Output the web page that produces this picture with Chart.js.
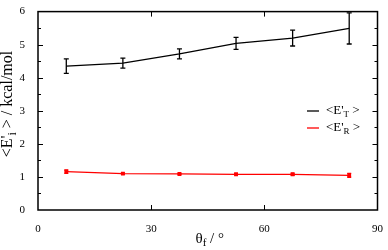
<!DOCTYPE html>
<html lang="en">
<head>
    <meta charset="UTF-8">
    <title>Energy vs angle</title>
    <script src="https://cdn.jsdelivr.net/npm/chart.js"></script>
    <style>
        html, body { margin: 0; padding: 0; background: #fff; }
        #wrap { width: 388px; height: 250px; }
    </style>
</head>
<body>
    <div id="wrap"><canvas id="energyChart" width="388" height="250"></canvas></div>
    <script>
        // data
        const thetaF = [7.5, 22.5, 37.5, 52.5, 67.5, 82.5];
        const eTrans = [4.35, 4.44, 4.72, 5.04, 5.2, 5.49];
        const eTransErr = [0.22, 0.15, 0.15, 0.18, 0.24, 0.47];
        const eRot = [1.16, 1.1, 1.09, 1.08, 1.08, 1.05];
        const eRotErr = [0.05, 0.02, 0.02, 0.02, 0.03, 0.06];
        const xTicks = [0, 30, 60, 90];
        const yTicks = [0, 1, 2, 3, 4, 5, 6];

        const serif = "'Liberation Serif', 'DejaVu Serif', serif";

        function toPoints(xs, ys) {
            return xs.map((x, i) => ({ x: x, y: ys[i] }));
        }

        // draws text with a subscript part: parts = [[text, 'n'|'sub'], ...]
        function drawRich(ctx, parts, x, y, size) {
            let cx = x;
            parts.forEach(p => {
                const sub = p[1] === 'sub';
                ctx.font = (sub ? Math.round(size * 0.72) : size) + "px " + serif;
                ctx.fillText(p[0], cx, sub ? y + size * 0.3 : y);
                cx += ctx.measureText(p[0]).width;
            });
            return cx - x;
        }
        function richWidth(ctx, parts, size) {
            let w = 0;
            parts.forEach(p => {
                ctx.font = (p[1] === 'sub' ? Math.round(size * 0.72) : size) + "px " + serif;
                w += ctx.measureText(p[0]).width;
            });
            return w;
        }

        const errorBars = {
            id: 'errorBars',
            afterDatasetsDraw(chart) {
                const ctx = chart.ctx;
                const ys = chart.scales.y;
                chart.data.datasets.forEach((ds, i) => {
                    const meta = chart.getDatasetMeta(i);
                    ctx.save();
                    ctx.strokeStyle = ds.borderColor;
                    ctx.lineWidth = 1.3;
                    meta.data.forEach((pt, j) => {
                        const v = ds.data[j].y;
                        const e = ds.errors[j];
                        const top = ys.getPixelForValue(v + e);
                        const bot = ys.getPixelForValue(v - e);
                        const cap = ds.capWidth;
                        ctx.beginPath();
                        ctx.moveTo(pt.x, top); ctx.lineTo(pt.x, bot);
                        ctx.moveTo(pt.x - cap, top); ctx.lineTo(pt.x + cap, top);
                        ctx.moveTo(pt.x - cap, bot); ctx.lineTo(pt.x + cap, bot);
                        ctx.stroke();
                    });
                    ctx.restore();
                });
            }
        };

        const frameAndLabels = {
            id: 'frameAndLabels',
            afterDraw(chart) {
                const ctx = chart.ctx;
                const a = chart.chartArea;
                const xs = chart.scales.x;
                const ys = chart.scales.y;
                ctx.save();
                ctx.strokeStyle = '#000';
                ctx.lineWidth = 1.5;
                ctx.strokeRect(a.left, a.top, a.right - a.left, a.bottom - a.top);

                // inward ticks
                ctx.lineWidth = 1;
                ctx.beginPath();
                for (let v = 0.5; v < 6; v += 0.5) {
                    const py = Math.round(ys.getPixelForValue(v)) + 0.5;
                    const len = (v % 1 === 0) ? 5 : 3;
                    ctx.moveTo(a.left, py); ctx.lineTo(a.left + len, py);
                    ctx.moveTo(a.right, py); ctx.lineTo(a.right - len, py);
                }
                [30, 60].forEach(v => {
                    const px = Math.round(xs.getPixelForValue(v)) + 0.5;
                    ctx.moveTo(px, a.bottom); ctx.lineTo(px, a.bottom - 5);
                    ctx.moveTo(px, a.top); ctx.lineTo(px, a.top + 5);
                });
                ctx.stroke();

                // legend
                ctx.fillStyle = '#000';
                ctx.textBaseline = 'middle';
                ctx.textAlign = 'left';
                const legend = [
                    { color: '#000', parts: [["<E'", 'n'], ['T', 'sub'], [' >', 'n']] },
                    { color: '#ff0000', parts: [["<E'", 'n'], ['R', 'sub'], [' >', 'n']] }
                ];
                legend.forEach((item, i) => {
                    const ly = 111 + i * 17;
                    ctx.strokeStyle = item.color;
                    ctx.lineWidth = 1.3;
                    ctx.beginPath();
                    ctx.moveTo(307, ly); ctx.lineTo(319, ly);
                    ctx.stroke();
                    drawRich(ctx, item.parts, 326, ly, 13);
                });

                // x axis title
                const xParts = [['\u03b8', 'n'], ['f', 'sub'], [' / \u00b0', 'n']];
                const xw = richWidth(ctx, xParts, 15);
                drawRich(ctx, xParts, (a.left + a.right) / 2 - xw / 2 + 2, 239, 15);

                // y axis title
                const yParts = [["<E'", 'n'], ['i', 'sub'], [' > / kcal/mol', 'n']];
                const yw = richWidth(ctx, yParts, 16);
                ctx.translate(8, 104);
                ctx.rotate(-Math.PI / 2);
                drawRich(ctx, yParts, -yw / 2, 0, 16);
                ctx.restore();
            }
        };

        new Chart(document.getElementById('energyChart').getContext('2d'), {
            type: 'line',
            data: {
                datasets: [
                    {
                        label: "<E'T>",
                        data: toPoints(thetaF, eTrans),
                        errors: eTransErr,
                        capWidth: 2.5,
                        borderColor: '#000',
                        backgroundColor: '#000',
                        borderWidth: 1.3,
                        pointRadius: 0,
                        tension: 0
                    },
                    {
                        label: "<E'R>",
                        data: toPoints(thetaF, eRot),
                        errors: eRotErr,
                        capWidth: 2,
                        borderColor: '#ff0000',
                        backgroundColor: '#ff0000',
                        borderWidth: 1.3,
                        pointStyle: 'rect',
                        pointRadius: 1.8,
                        tension: 0
                    }
                ]
            },
            options: {
                responsive: false,
                animation: false,
                layout: { padding: { left: 0, right: 6, top: 7, bottom: 0 } },
                plugins: {
                    legend: { display: false },
                    tooltip: { enabled: false }
                },
                scales: {
                    x: {
                        type: 'linear',
                        min: 0,
                        max: 90,
                        afterBuildTicks: s => { s.ticks = xTicks.map(v => ({ value: v })); },
                        afterFit: s => { s.height = 40; },
                        grid: { display: false },
                        border: { display: false },
                        ticks: {
                            padding: 5,
                            color: '#000',
                            font: { family: serif, size: 11 }
                        }
                    },
                    y: {
                        min: 0,
                        max: 6,
                        afterBuildTicks: s => { s.ticks = yTicks.map(v => ({ value: v })); },
                        afterFit: s => { s.width = 38; },
                        grid: { display: false },
                        border: { display: false },
                        ticks: {
                            padding: 5,
                            color: '#000',
                            font: { family: serif, size: 11 }
                        }
                    }
                }
            },
            plugins: [errorBars, frameAndLabels]
        });
    </script>
</body>
</html>
